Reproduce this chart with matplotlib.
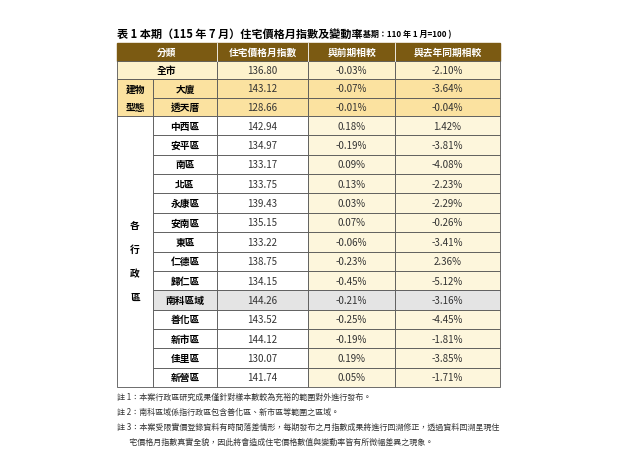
import matplotlib
matplotlib.use("Agg")
import matplotlib.pyplot as plt
from matplotlib.patches import Rectangle

plt.rcParams['font.family'] = ['Noto Sans CJK TC', 'DejaVu Sans']

title = "表 1 本期（115 年 7 月）住宅價格月指數及變動率"
subtitle = "( 基期：110 年 1 月=100 )"
headers = ["分類", "住宅價格月指數", "與前期相較", "與去年同期相較"]
names = ["全市", "大廈", "透天厝", "中西區", "安平區", "南區", "北區", "永康區", "安南區", "東區",
         "仁德區", "歸仁區", "南科區域", "善化區", "新市區", "佳里區", "新營區"]
index_vals = ["136.80", "143.12", "128.66", "142.94", "134.97", "133.17", "133.75", "139.43", "135.15",
              "133.22", "138.75", "134.15", "144.26", "143.52", "144.12", "130.07", "141.74"]
mom = ["-0.03%", "-0.07%", "-0.01%", "0.18%", "-0.19%", "0.09%", "0.13%", "0.03%", "0.07%", "-0.06%",
       "-0.23%", "-0.45%", "-0.21%", "-0.25%", "-0.19%", "0.19%", "0.05%"]
yoy = ["-2.10%", "-3.64%", "-0.04%", "1.42%", "-3.81%", "-4.08%", "-2.23%", "-2.29%", "-0.26%", "-3.41%",
       "2.36%", "-5.12%", "-3.16%", "-4.45%", "-1.81%", "-3.85%", "-1.71%"]
notes = ["註 1：本案行政區研究成果僅針對樣本數較為充裕的範圍對外進行發布。",
         "註 2：南科區域係指行政區包含善化區、新市區等範圍之區域。",
         "註 3：本案受限實價登錄資料有時間落差情形，每期發布之月指數成果將進行回溯修正，透過資料回溯呈現住",
         "       宅價格月指數真實全貌，因此將會造成住宅價格數值與變動率皆有所微幅差異之現象。"]

fig = plt.figure(figsize=(6.4, 4.6), dpi=100)
ax = fig.add_axes([0, 0, 1, 1])
ax.set_xlim(0, 640); ax.set_ylim(460, 0); ax.axis('off')

cx = [117, 153, 217, 308, 395, 500]
y0, hh = 44, 18
rows_y = [62, 80, 99, 117]
rh = (388 - 117) / 14
for i in range(14):
    rows_y.append(117 + rh * (i + 1))
brown = "#7b5a12"; lite = "#fdf2cc"; mid = "#fbe2a0"; dist = "#fdf6dc"; grey = "#e4e4e4"
lc = "#555555"

ax.text(117, 34, title, fontsize=8, fontweight='bold', va='center')
ax.text(358, 34.5, subtitle, fontsize=5.8, fontweight='bold', va='center')

ax.add_patch(Rectangle((cx[0], y0), cx[5]-cx[0], hh, color=brown))
hc = [(cx[0]+cx[2])/2, (cx[2]+cx[3])/2, (cx[3]+cx[4])/2, (cx[4]+cx[5])/2]
for h, x in zip(headers, hc):
    ax.text(x, y0 + hh/2, h, color='white', fontsize=7, fontweight='bold', ha='center', va='center')
for x in cx[2:5]:
    ax.plot([x, x], [y0, y0+hh], color='white', lw=0.6)

for r in range(17):
    top, bot = rows_y[r], rows_y[r+1]
    cy = (top + bot) / 2
    if r == 0:
        fills = [lite]*4
    elif r <= 2:
        fills = [mid]*4
    elif names[r] == "南科區域":
        fills = [grey]*4
    else:
        fills = ["white", "white", dist, dist]
    if r == 0:
        ax.add_patch(Rectangle((cx[0], top), cx[2]-cx[0], bot-top, fc=fills[0], ec=lc, lw=0.6))
        ax.text((cx[0]+cx[2])/2, cy, names[r], fontsize=7, fontweight='bold', ha='center', va='center')
    else:
        ax.add_patch(Rectangle((cx[1], top), cx[2]-cx[1], bot-top, fc=fills[0], ec=lc, lw=0.6))
        ax.text((cx[1]+cx[2])/2, cy, names[r], fontsize=7, fontweight='bold', ha='center', va='center')
    for j, val in enumerate([index_vals[r], mom[r], yoy[r]]):
        ax.add_patch(Rectangle((cx[j+2], top), cx[j+3]-cx[j+2], bot-top, fc=fills[j+1], ec=lc, lw=0.6))
        ax.text((cx[j+2]+cx[j+3])/2, cy, val, fontsize=7, ha='center', va='center', color='#333333')

ax.add_patch(Rectangle((cx[0], rows_y[1]), cx[1]-cx[0], rows_y[3]-rows_y[1], fc=mid, ec=lc, lw=0.6))
ax.text((cx[0]+cx[1])/2, (rows_y[1]+rows_y[2])/2, "建物", fontsize=7, fontweight='bold', ha='center', va='center')
ax.text((cx[0]+cx[1])/2, (rows_y[2]+rows_y[3])/2, "型態", fontsize=7, fontweight='bold', ha='center', va='center')
ax.add_patch(Rectangle((cx[0], rows_y[3]), cx[1]-cx[0], rows_y[17]-rows_y[3], fc='white', ec=lc, lw=0.6))
for k, ch in enumerate("各行政區"):
    ax.text((cx[0]+cx[1])/2, 226 + k*24, ch, fontsize=7, fontweight='bold', ha='center', va='center')

for k, n in enumerate(notes):
    ax.text(117, 397 + k*15, n, fontsize=5.8, va='center', color='#333333')

fig.savefig("out.png", dpi=100)
